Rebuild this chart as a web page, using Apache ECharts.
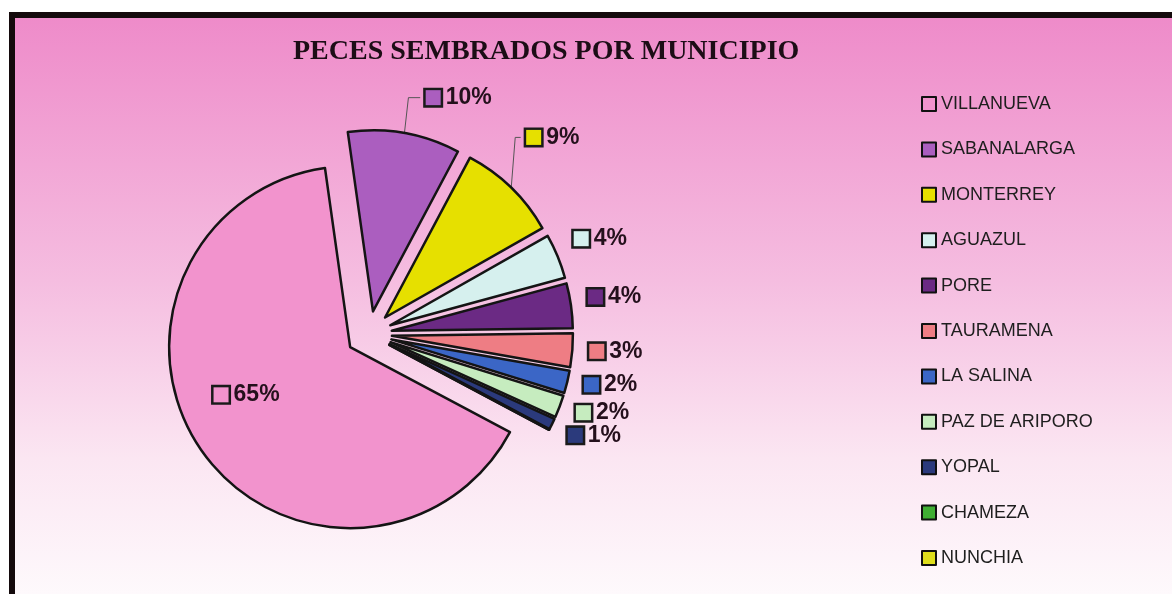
<!DOCTYPE html>
<html>
<head>
<meta charset="utf-8">
<script src="https://cdn.jsdelivr.net/npm/echarts@6/dist/echarts.min.js"></script>
<style>
  html, body { margin: 0; padding: 0; background: #ffffff; }
  #chart { width: 1172px; height: 594px; }
</style>
</head>
<body>
<div id="chart"></div>
<script>
// Share of fish stocked per municipality (percent)
const municipios = ['VILLANUEVA', 'SABANALARGA', 'MONTERREY', 'AGUAZUL', 'PORE', 'TAURAMENA',
                    'LA SALINA', 'PAZ DE ARIPORO', 'YOPAL', 'CHAMEZA', 'NUNCHIA'];
const porcentajes = [65, 10, 9, 4, 4, 3, 2, 2, 1, 0, 0];
const colores = ['#f293cd', '#ab5ebf', '#e6e000', '#d6f0ee', '#6b2a84', '#ee7d84',
                 '#3b66c6', '#c6ecbf', '#2b3a7c', '#3fae33', '#dede1c'];
const titulo = 'PECES SEMBRADOS POR MUNICIPIO';

const chart = echarts.init(document.getElementById('chart'), null, { renderer: 'canvas' });

// Rich-text styles: a coloured key square per slice plus the bold percentage
const rich = {
  p: {
    fontFamily: '"Liberation Sans Narrow", "Liberation Sans", Arial, sans-serif',
    fontWeight: 'bold', fontSize: 23, color: '#24101c', padding: [0, 0, 0, 5]
  }
};
colores.forEach((c, i) => {
  rich['k' + i] = { width: 15, height: 15, backgroundColor: c, borderColor: '#1a1a1a', borderWidth: 2.5 };
});

// Leader lines are drawn only for the two slices whose labels sit further out
const guias = { 1: [36, 10], 2: [20, 6] };
// Small nudges that keep neighbouring slice labels clear of each other
const ajustes = { 0: [-27, -6], 2: [-10, -36], 3: [0, -13], 4: [0, -7], 7: [0, 2], 8: [0, 6] };

const datos = municipios.map((nombre, i) => ({
  name: nombre,
  value: porcentajes[i],
  selected: true,
  itemStyle: { color: colores[i] },
  label: i === 0 ? { position: 'inside' } : { show: porcentajes[i] > 0 },
  labelLine: guias[i]
    ? { show: true, length: guias[i][0], length2: guias[i][1] }
    : { show: false, length: 12, length2: 0 }
}));

// Place the label and, for slices with a leader, route the line up from the
// slice edge and then across to the label's key square
function colocarEtiqueta(p) {
  const a = ajustes[p.dataIndex] || [0, 0];
  const out = { hideOverlap: false, moveOverlap: null, dx: a[0], dy: a[1] };
  if (guias[p.dataIndex] && p.labelLinePoints && p.labelRect) {
    const inicio = p.labelLinePoints[0];
    const r = p.labelRect;
    const yc = r.y + a[1] + r.height / 2;
    const xl = r.x + a[0] - 3;
    out.labelLinePoints = [[inicio[0], inicio[1]], [inicio[0] + 4, yc], [xl, yc]];
  }
  return out;
}

chart.setOption({
  animation: false,
  graphic: [{
    type: 'rect', z: -10, silent: true,
    shape: { x: 12, y: 15, width: 1400, height: 590 },
    style: {
      fill: new echarts.graphic.LinearGradient(0, 0, 0, 1, [
        { offset: 0, color: '#ee8ac9' },
        { offset: 0.45, color: '#f5bde0' },
        { offset: 0.75, color: '#fbe6f2' },
        { offset: 1, color: '#fefbfd' }
      ]),
      stroke: '#140a0c', lineWidth: 6
    }
  }],
  title: {
    text: titulo,
    left: 288, top: 33,
    textStyle: {
      fontFamily: '"Liberation Serif", "Times New Roman", serif',
      fontWeight: 'bold', fontSize: 28, color: '#1c0d16'
    }
  },
  legend: {
    orient: 'vertical',
    left: 921, top: 95,
    padding: 0,
    itemWidth: 14, itemHeight: 14, itemGap: 27.4,
    icon: 'rect',
    selectedMode: false,
    data: municipios,
    itemStyle: { borderColor: '#111111', borderWidth: 2 },
    textStyle: {
      fontFamily: '"Liberation Sans", Arial, sans-serif',
      fontSize: 18, lineHeight: 18, color: '#1e1e1e'
    }
  },
  series: [{
    type: 'pie',
    center: [369, 334],
    radius: 181,
    startAngle: -28,
    clockwise: true,
    selectedMode: 'multiple',
    selectedOffset: 23,
    avoidLabelOverlap: false,
    emphasis: { disabled: true },
    itemStyle: { borderColor: '#141414', borderWidth: 2.5 },
    label: {
      position: 'outside',
      alignTo: 'none',
      distanceToLabelLine: 5,
      formatter: p => p.value > 0 ? `{k${p.dataIndex}|}{p|${Math.round(p.percent)}%}` : '',
      rich: rich
    },
    labelLayout: colocarEtiqueta,
    labelLine: { lineStyle: { color: '#555555', width: 1 } },
    data: datos
  }]
});
</script>
</body>
</html>
